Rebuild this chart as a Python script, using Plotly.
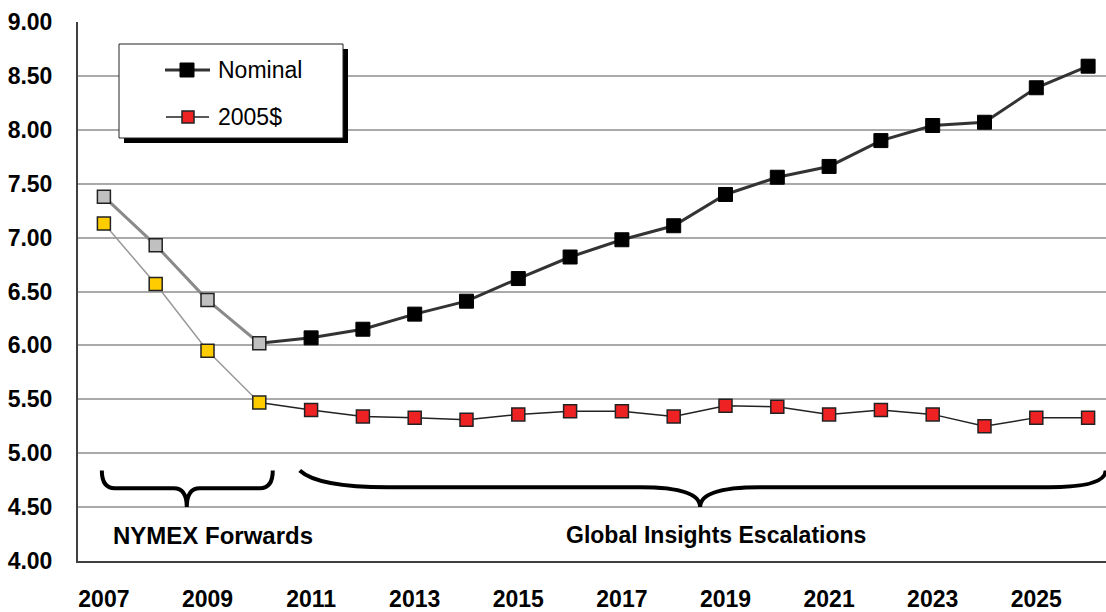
import plotly.graph_objects as go

# data
years = list(range(2007, 2027))
nominal = [7.38, 6.93, 6.42, 6.02, 6.07, 6.15, 6.29, 6.41, 6.62, 6.82,
           6.98, 7.11, 7.40, 7.56, 7.66, 7.90, 8.04, 8.07, 8.39, 8.59]
real_2005 = [7.13, 6.57, 5.95, 5.47, 5.40, 5.34, 5.33, 5.31, 5.36, 5.39,
             5.39, 5.34, 5.44, 5.43, 5.36, 5.40, 5.36, 5.25, 5.33, 5.33]
tick_years = list(range(2007, 2027, 2))
y_ticks = [4.0, 4.5, 5.0, 5.5, 6.0, 6.5, 7.0, 7.5, 8.0, 8.5, 9.0]
split = 3  # 2010 is last NYMEX forward year

FONT = "Arial, Liberation Sans, sans-serif"

# plot area in pixels (used for legend placement only)
W, H = 1106, 612
L, T, B = 78, 22, 51
PW, PH = W - L, H - T - B


def px(x):
    return (x - L) / PW


def py(y):
    return (H - B - y) / PH


fig = go.Figure()

# projection lines (drawn first so markers sit on top)
fig.add_trace(go.Scatter(x=years[split:], y=nominal[split:], mode="lines",
                         line=dict(color="#333333", width=3), hoverinfo="skip"))
fig.add_trace(go.Scatter(x=years[split:], y=real_2005[split:], mode="lines",
                         line=dict(color="#222222", width=1.5), hoverinfo="skip"))
# forward lines
fig.add_trace(go.Scatter(x=years[:split + 1], y=nominal[:split + 1], mode="lines",
                         line=dict(color="#8a8a8a", width=3), hoverinfo="skip"))
fig.add_trace(go.Scatter(x=years[:split + 1], y=real_2005[:split + 1], mode="lines",
                         line=dict(color="#999999", width=1.5), hoverinfo="skip"))

# markers
fig.add_trace(go.Scatter(x=years[split + 1:], y=nominal[split + 1:], mode="markers", name="Nominal",
                         marker=dict(symbol="square", size=14, color="#000000",
                                     line=dict(color="#000000", width=1))))
fig.add_trace(go.Scatter(x=years[split + 1:], y=real_2005[split + 1:], mode="markers", name="2005$",
                         marker=dict(symbol="square", size=13, color="#ee2222",
                                     line=dict(color="#222222", width=1.5))))
fig.add_trace(go.Scatter(x=years[:split + 1], y=nominal[:split + 1], mode="markers",
                         marker=dict(symbol="square", size=13, color="#c0c0c0",
                                     line=dict(color="#222222", width=1.5))))
fig.add_trace(go.Scatter(x=years[:split + 1], y=real_2005[:split + 1], mode="markers",
                         marker=dict(symbol="square", size=13, color="#ffcc00",
                                     line=dict(color="#222222", width=1.5))))


def brace(x0, x1, xm, ytop, yh, ytip, cl, cr, d, lead=0.0):
    return (f"M {x0},{ytop} Q {x0 + lead},{yh} {x0 + cl},{yh} "
            f"L {xm - d},{yh} Q {xm},{yh} {xm},{ytip} "
            f"Q {xm},{yh} {xm + d},{yh} L {x1 - cr},{yh} "
            f"Q {x1},{yh} {x1},{ytop}")


shapes = [
    dict(type="path", xref="x", yref="y",
         path=brace(2006.96, 2010.26, 2008.60, 4.84, 4.675, 4.50, 0.25, 0.25, 0.25),
         line=dict(color="black", width=4)),
    dict(type="path", xref="x", yref="y",
         path=brace(2010.78, 2026.34, 2018.51, 4.84, 4.685, 4.50, 1.7, 1.1, 1.15, lead=0.35),
         line=dict(color="black", width=4)),
    # legend shadow + box
    dict(type="rect", xref="paper", yref="paper", x0=px(124), x1=px(348), y0=py(143), y1=py(49),
         fillcolor="black", line=dict(width=0), layer="above"),
    dict(type="rect", xref="paper", yref="paper", x0=px(119), x1=px(343), y0=py(138), y1=py(44),
         fillcolor="white", line=dict(color="#222222", width=1), layer="above"),
    # legend samples
    dict(type="line", xref="paper", yref="paper", x0=px(165), x1=px(210), y0=py(70), y1=py(70),
         line=dict(color="#333333", width=3), layer="above"),
    dict(type="rect", xref="paper", yref="paper", x0=px(180), x1=px(194), y0=py(77), y1=py(63),
         fillcolor="black", line=dict(color="black", width=1), layer="above"),
    dict(type="line", xref="paper", yref="paper", x0=px(166), x1=px(209), y0=py(117), y1=py(117),
         line=dict(color="#222222", width=1.5), layer="above"),
    dict(type="rect", xref="paper", yref="paper", x0=px(182), x1=px(194), y0=py(123), y1=py(111),
         fillcolor="#ee2222", line=dict(color="#222222", width=1.5), layer="above"),
]

annotations = [
    dict(x=px(216), y=py(70), xref="paper", yref="paper", text="Nominal", showarrow=False,
         xanchor="left", yanchor="middle", font=dict(family=FONT, size=23, color="black")),
    dict(x=px(216), y=py(117), xref="paper", yref="paper", text="2005$", showarrow=False,
         xanchor="left", yanchor="middle", font=dict(family=FONT, size=23, color="black")),
    dict(x=2009.10, y=4.24, xref="x", yref="y", text="<b>NYMEX Forwards</b>", showarrow=False,
         font=dict(family=FONT, size=24, color="black")),
    dict(x=2018.81, y=4.24, xref="x", yref="y", text="<b>Global Insights Escalations</b>",
         showarrow=False, font=dict(family=FONT, size=23, color="black")),
]

fig.update_layout(
    width=W, height=H,
    margin=dict(l=L, r=0, t=T, b=B, autoexpand=False),
    paper_bgcolor="white", plot_bgcolor="white",
    showlegend=False,
    font=dict(family=FONT, color="black"),
    shapes=shapes,
    annotations=annotations,
    xaxis=dict(
        range=[2006.5, 2006.5 + PW / 51.8],
        tickvals=tick_years,
        ticktext=[f"<b>{y}</b>" for y in tick_years],
        tickfont=dict(family=FONT, size=23, color="black"),
        showgrid=False, zeroline=False,
        showline=True, linecolor="#404040", linewidth=2,
        ticks="", ticklabelstandoff=16, automargin=False,
    ),
    yaxis=dict(
        range=[4, 9],
        tickvals=y_ticks,
        ticktext=[f"<b>{v:.2f}</b>" for v in y_ticks],
        tickfont=dict(family=FONT, size=23, color="black"),
        showgrid=True, gridcolor="#aaaaaa", gridwidth=1.5,
        zeroline=False,
        showline=True, linecolor="#404040", linewidth=2,
        ticks="", ticklabelstandoff=19, automargin=False,
    ),
)

# drop the default page margin so the figure sits at the window corner
fig.write_html("out.html", config={"displayModeBar": False},
               post_script="document.body.style.margin='0px';")
